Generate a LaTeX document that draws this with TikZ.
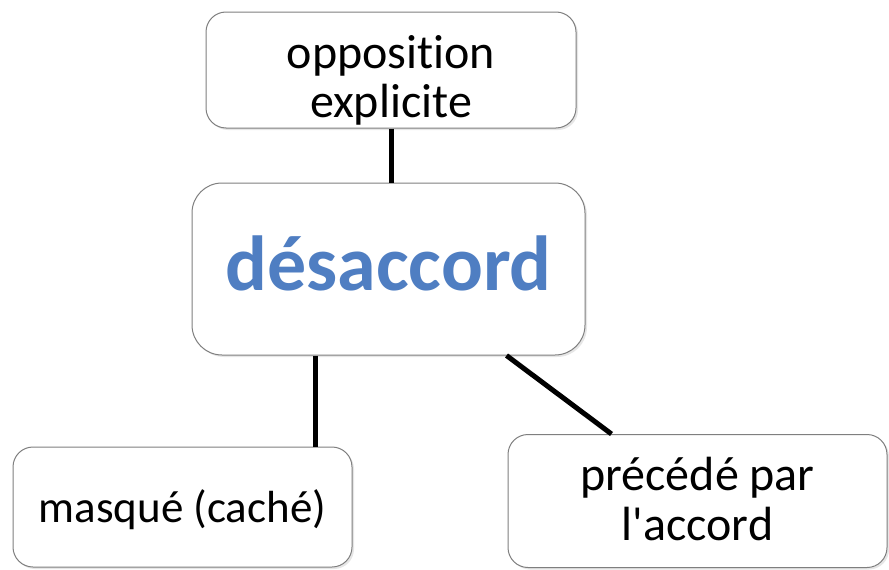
\documentclass[tikz,border=0pt]{standalone}
\usepackage{fontspec}
\setmainfont{Carlito}[Ligatures={TeXOff,CommonOff}]
\usetikzlibrary{shadows}
\definecolor{boxline}{HTML}{7F7F7F}
\definecolor{titleblue}{HTML}{4F7EC2}
\tikzset{
  conceptbox/.style={draw=boxline, line width=1pt, fill=white, rounded corners=20pt,
    align=center, inner sep=0pt, font=\fontsize{48}{49}\selectfont,
    drop shadow={opacity=0.2, shadow xshift=2pt, shadow yshift=-2pt}},
  link/.style={line width=5pt, black}
}
\begin{document}
\begin{tikzpicture}[x=1pt,y=-1pt]
\useasboundingbox (0,0) rectangle (889,570);
\node[conceptbox, minimum width=370pt, minimum height=116pt, text height=94pt, text depth=0pt] (top) at (391,70) {opposition\\explicite};
\node[conceptbox, rounded corners=30pt, minimum width=393pt, minimum height=172pt,
  font=\bfseries\fontsize{78}{80}\selectfont, text=titleblue, text height=42pt, text depth=0pt] (mid) at (388.5,269) {désaccord};
\node[conceptbox, minimum width=339pt, minimum height=120pt, font=\fontsize{45}{49}\selectfont, text height=30pt, text depth=0pt] (left) at (182.5,507) {masqué (caché)};
\node[conceptbox, minimum width=379pt, minimum height=133pt, font=\fontsize{48}{50}\selectfont, text height=78pt, text depth=0pt] (right) at (697.5,501) {précédé par\\l'accord};
\draw[link] (top.south) -- (top.south |- mid.north);
\draw[link] ([xshift=124pt]mid.south west) -- ([xshift=124pt]mid.south west |- left.north);
\draw[link] ([xshift=315pt]mid.south west) -- ([xshift=104pt]right.north west);
\end{tikzpicture}
\end{document}
